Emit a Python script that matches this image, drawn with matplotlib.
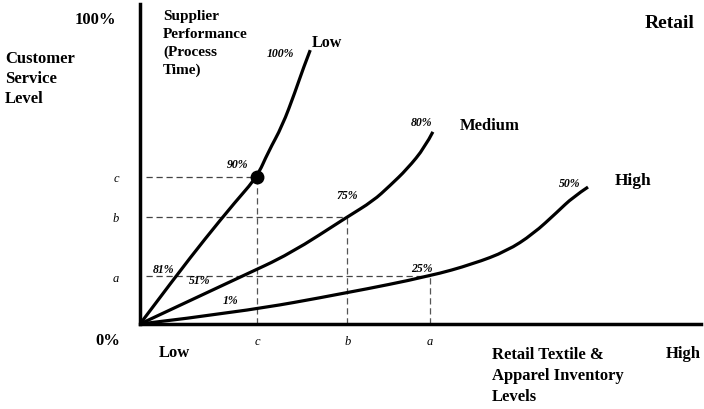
import matplotlib
matplotlib.use("Agg")
import matplotlib.pyplot as plt
from matplotlib.path import Path
from matplotlib.patches import PathPatch

plt.rcParams['font.family'] = ['Liberation Serif', 'DejaVu Serif']

# curves: inventory level (x) vs customer service level (y), both 0-100
low_x = [0, 6.3, 11.6, 17.0, 20.9, 22.9, 25.4, 27.7, 29.1, 30.4]
low_y = [0, 15.4, 27.9, 40.0, 48.2, 56.4, 64.9, 76.1, 83.6, 89.8]
med_x = [0, 17.9, 26.8, 37.0, 41.6, 44.6, 47.7, 50.9, 52.3]
med_y = [0, 15.4, 23.0, 35.1, 40.3, 45.3, 50.8, 58.0, 63.0]
high_x = [0, 17.9, 37.0, 51.8, 59.5, 65.5, 70.2, 74.5, 77.3, 80.0]
high_y = [0, 3.9, 10.2, 15.7, 19.7, 23.9, 29.5, 36.7, 41.6, 44.9]

# reference levels a, b, c
ref_names = ['a', 'b', 'c']
ref_x = [51.8, 37.0, 20.9]
ref_y = [15.7, 35.1, 48.2]

# percentage annotations along the curves
pct_labels = ['100%', '90%', '81%', '80%', '75%', '51%', '50%', '25%', '1%']
pct_x = [25.0, 17.4, 4.2, 50.3, 37.0, 10.7, 76.8, 50.3, 16.1]
pct_y = [88.9, 52.5, 18.0, 66.3, 42.3, 14.5, 46.2, 18.3, 8.0]

W, H = 704, 410
fig = plt.figure(figsize=(W / 100, H / 100), dpi=100)
ax = fig.add_axes([140 / W, (H - 325) / H, 561 / W, 320 / H])
ax.set_xlim(0, 561 / 5.6)
ax.set_ylim(0, 320 / 3.05)


def smooth_curve(xs, ys):
    # quadratic bezier through midpoints, read points act as control points
    pts = list(zip(xs, ys))
    verts = [pts[0]]
    codes = [Path.MOVETO]
    for i in range(1, len(pts) - 1):
        mid = ((pts[i][0] + pts[i + 1][0]) / 2, (pts[i][1] + pts[i + 1][1]) / 2)
        if i == len(pts) - 2:
            mid = pts[i + 1]
        verts += [pts[i], mid]
        codes += [Path.CURVE3, Path.CURVE3]
    return PathPatch(Path(verts, codes), fill=False, edgecolor='black', lw=2.3,
                     capstyle='butt', transform=ax.transData, zorder=3)


for xs, ys in [(low_x, low_y), (med_x, med_y), (high_x, high_y)]:
    ax.add_patch(smooth_curve(xs, ys))

for rx, ry in zip(ref_x, ref_y):
    ax.plot([1.0, rx], [ry, ry], color='#444444', lw=0.9, ls=(0, (5, 3)), zorder=2)
    ax.plot([rx, rx], [0, ry], color='#555555', lw=0.9, ls=(0, (5, 3)), zorder=2)

ax.plot([ref_x[2]], [ref_y[2]], 'o', color='black', ms=9, zorder=4)

for lab, px, py in zip(pct_labels, pct_x, pct_y):
    ax.text(px, py, lab, fontsize=8.5, style='italic', fontweight='bold',
            ha='center', va='center')

for s in ['top', 'right']:
    ax.spines[s].set_visible(False)
for s in ['left', 'bottom']:
    ax.spines[s].set_linewidth(2.5)
ax.set_xticks(ref_x)
ax.set_xticklabels(ref_names, style='italic', fontsize=9)
ax.set_yticks(ref_y)
ax.set_yticklabels(ref_names, style='italic', fontsize=9)
ax.tick_params(length=0)
ax.tick_params(axis='x', pad=8)
ax.tick_params(axis='y', pad=15)
ax.patch.set_alpha(0)


def ftext(px, py, s, **kw):
    fig.text(px / W, 1 - py / H, s, fontweight='bold', **kw)


ftext(95, 20, '100%', fontsize=12, ha='center', va='center')
ftext(108, 341, '0%', fontsize=12, ha='center', va='center')
ftext(5, 51, 'Customer\nService\nLevel', fontsize=12, ha='left', va='top', linespacing=1.35)
ftext(163, 10, 'Supplier\nPerformance\n(Process\nTime)', fontsize=11, ha='left', va='top', linespacing=1.45)
ftext(312, 43, 'Low', fontsize=11.5, ha='left', va='center')
ftext(460, 126, 'Medium', fontsize=12, ha='left', va='center')
ftext(615, 181, 'High', fontsize=12.5, ha='left', va='center')
ftext(645, 24, 'Retail', fontsize=14, ha='left', va='center')
ftext(174, 353, 'Low', fontsize=12, ha='center', va='center')
ftext(683, 354, 'High', fontsize=12, ha='center', va='center')
ftext(492, 347, 'Retail Textile &\nApparel Inventory\nLevels', fontsize=12, ha='left', va='top', linespacing=1.4)

fig.savefig('out.png', dpi=100, facecolor='white')
